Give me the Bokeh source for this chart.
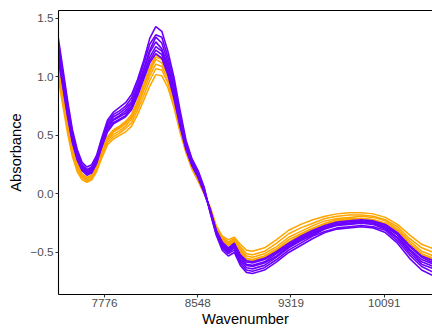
from bokeh.plotting import figure
from bokeh.models import Range1d, FixedTicker, LinearAxis, CustomJSTickFormatter
from bokeh.embed import file_html
from bokeh.resources import INLINE

wavenumber = [7394, 7430, 7470, 7510, 7550, 7590, 7630, 7670, 7710, 7750,
              7800, 7850, 7900, 7950, 8000, 8050, 8100, 8150, 8200, 8250,
              8300, 8350, 8400, 8450, 8500, 8550, 8600, 8650, 8700, 8750,
              8800, 8850, 8900, 8950, 9000, 9100, 9200, 9300, 9400, 9500,
              9600, 9700, 9800, 9900, 10000, 10100, 10200, 10300, 10400, 10500]

orange_1 = [0.98, 0.76, 0.52, 0.32, 0.19, 0.12, 0.10, 0.12, 0.19, 0.30,
            0.42, 0.47, 0.50, 0.53, 0.58, 0.68, 0.80, 0.92, 1.02, 1.01,
            0.91, 0.74, 0.53, 0.35, 0.21, 0.11, 0.00, -0.11, -0.27, -0.36,
            -0.39, -0.37, -0.43, -0.48, -0.49, -0.46, -0.39, -0.31, -0.26, -0.22,
            -0.19, -0.17, -0.16, -0.16, -0.17, -0.20, -0.26, -0.35, -0.43, -0.47]
orange_2 = [1.02, 0.80, 0.55, 0.34, 0.21, 0.14, 0.11, 0.13, 0.21, 0.32,
            0.44, 0.49, 0.52, 0.56, 0.61, 0.72, 0.84, 0.97, 1.07, 1.06,
            0.95, 0.77, 0.55, 0.37, 0.22, 0.12, 0.01, -0.12, -0.28, -0.37,
            -0.41, -0.38, -0.45, -0.51, -0.52, -0.49, -0.42, -0.34, -0.29, -0.25,
            -0.21, -0.19, -0.18, -0.18, -0.19, -0.22, -0.28, -0.38, -0.46, -0.50]
orange_3 = [1.06, 0.83, 0.58, 0.36, 0.23, 0.15, 0.12, 0.14, 0.22, 0.33,
            0.46, 0.51, 0.54, 0.58, 0.64, 0.75, 0.88, 1.01, 1.11, 1.09,
            0.98, 0.80, 0.57, 0.38, 0.23, 0.13, 0.01, -0.12, -0.29, -0.38,
            -0.42, -0.39, -0.47, -0.53, -0.54, -0.51, -0.45, -0.37, -0.32, -0.27,
            -0.23, -0.21, -0.20, -0.19, -0.20, -0.23, -0.30, -0.40, -0.49, -0.53]
orange_4 = [1.09, 0.85, 0.60, 0.38, 0.24, 0.16, 0.13, 0.15, 0.23, 0.35,
            0.47, 0.53, 0.56, 0.60, 0.66, 0.77, 0.91, 1.04, 1.15, 1.12,
            1.01, 0.82, 0.58, 0.39, 0.24, 0.13, 0.02, -0.13, -0.30, -0.39,
            -0.43, -0.40, -0.48, -0.55, -0.56, -0.53, -0.47, -0.39, -0.34, -0.29,
            -0.25, -0.22, -0.21, -0.21, -0.22, -0.25, -0.31, -0.42, -0.51, -0.55]
orange_5 = [1.11, 0.87, 0.61, 0.39, 0.25, 0.17, 0.14, 0.16, 0.24, 0.35,
            0.48, 0.54, 0.57, 0.61, 0.67, 0.79, 0.93, 1.06, 1.17, 1.15,
            1.03, 0.83, 0.59, 0.40, 0.25, 0.14, 0.02, -0.13, -0.31, -0.40,
            -0.44, -0.41, -0.49, -0.56, -0.57, -0.54, -0.48, -0.41, -0.35, -0.30,
            -0.26, -0.23, -0.22, -0.21, -0.22, -0.25, -0.32, -0.43, -0.52, -0.56]
orange_6 = [1.12, 0.88, 0.62, 0.40, 0.26, 0.17, 0.14, 0.16, 0.24, 0.36,
            0.49, 0.55, 0.58, 0.62, 0.68, 0.80, 0.94, 1.08, 1.19, 1.16,
            1.04, 0.84, 0.60, 0.40, 0.25, 0.14, 0.02, -0.13, -0.31, -0.40,
            -0.44, -0.41, -0.50, -0.57, -0.58, -0.55, -0.49, -0.42, -0.36, -0.31,
            -0.27, -0.24, -0.23, -0.22, -0.23, -0.26, -0.33, -0.44, -0.53, -0.57]

purple_1 = [1.15, 0.92, 0.66, 0.44, 0.29, 0.20, 0.16, 0.18, 0.26, 0.39,
            0.53, 0.60, 0.63, 0.66, 0.72, 0.84, 0.98, 1.12, 1.20, 1.16,
            1.02, 0.82, 0.58, 0.38, 0.24, 0.14, 0.01, -0.13, -0.31, -0.41,
            -0.46, -0.42, -0.52, -0.57, -0.58, -0.55, -0.49, -0.42, -0.36, -0.31,
            -0.27, -0.24, -0.23, -0.22, -0.23, -0.26, -0.33, -0.44, -0.53, -0.57]
purple_2 = [1.17, 0.94, 0.68, 0.45, 0.30, 0.21, 0.17, 0.19, 0.27, 0.40,
            0.54, 0.61, 0.64, 0.67, 0.74, 0.86, 1.00, 1.14, 1.23, 1.19,
            1.04, 0.84, 0.60, 0.39, 0.25, 0.15, 0.02, -0.13, -0.31, -0.42,
            -0.47, -0.43, -0.53, -0.58, -0.59, -0.56, -0.50, -0.43, -0.37, -0.32,
            -0.28, -0.25, -0.24, -0.23, -0.24, -0.27, -0.34, -0.45, -0.54, -0.59]
purple_3 = [1.20, 0.96, 0.70, 0.47, 0.31, 0.22, 0.18, 0.20, 0.28, 0.41,
            0.56, 0.63, 0.66, 0.69, 0.75, 0.88, 1.02, 1.17, 1.26, 1.22,
            1.07, 0.86, 0.62, 0.40, 0.26, 0.16, 0.02, -0.14, -0.32, -0.43,
            -0.48, -0.44, -0.54, -0.60, -0.61, -0.58, -0.51, -0.44, -0.38, -0.33,
            -0.29, -0.26, -0.25, -0.24, -0.25, -0.28, -0.35, -0.47, -0.56, -0.60]
purple_4 = [1.22, 0.98, 0.72, 0.48, 0.33, 0.23, 0.19, 0.21, 0.29, 0.42,
            0.57, 0.64, 0.67, 0.71, 0.77, 0.90, 1.05, 1.21, 1.30, 1.24,
            1.10, 0.89, 0.64, 0.41, 0.26, 0.16, 0.03, -0.14, -0.33, -0.44,
            -0.49, -0.45, -0.56, -0.61, -0.62, -0.59, -0.53, -0.45, -0.39, -0.34,
            -0.29, -0.26, -0.25, -0.24, -0.25, -0.29, -0.37, -0.48, -0.58, -0.62]
purple_5 = [1.25, 1.01, 0.74, 0.50, 0.34, 0.24, 0.20, 0.22, 0.30, 0.43,
            0.59, 0.66, 0.69, 0.73, 0.79, 0.92, 1.07, 1.23, 1.34, 1.29,
            1.13, 0.92, 0.66, 0.42, 0.27, 0.17, 0.04, -0.15, -0.33, -0.45,
            -0.50, -0.46, -0.57, -0.63, -0.64, -0.61, -0.54, -0.46, -0.40, -0.35,
            -0.30, -0.27, -0.26, -0.25, -0.26, -0.30, -0.38, -0.50, -0.60, -0.64]
purple_6 = [1.29, 1.04, 0.77, 0.52, 0.36, 0.25, 0.21, 0.23, 0.31, 0.45,
            0.61, 0.68, 0.71, 0.75, 0.82, 0.95, 1.11, 1.28, 1.36, 1.34,
            1.17, 0.96, 0.69, 0.44, 0.29, 0.19, 0.05, -0.15, -0.34, -0.46,
            -0.51, -0.48, -0.59, -0.65, -0.66, -0.63, -0.56, -0.48, -0.42, -0.36,
            -0.32, -0.29, -0.28, -0.27, -0.28, -0.31, -0.40, -0.52, -0.62, -0.67]
purple_7 = [1.33, 1.08, 0.80, 0.55, 0.38, 0.27, 0.23, 0.25, 0.33, 0.47,
            0.63, 0.70, 0.74, 0.78, 0.85, 0.98, 1.14, 1.33, 1.43, 1.39,
            1.22, 1.00, 0.72, 0.46, 0.30, 0.20, 0.06, -0.16, -0.35, -0.48,
            -0.53, -0.50, -0.61, -0.67, -0.68, -0.65, -0.58, -0.50, -0.44, -0.38,
            -0.33, -0.30, -0.29, -0.28, -0.29, -0.33, -0.42, -0.55, -0.65, -0.70]

orange_series = [orange_1, orange_2, orange_3, orange_4, orange_5, orange_6]
purple_series = [purple_1, purple_2, purple_3, purple_4, purple_5, purple_6, purple_7]

x_ticks = [7776, 8548, 9319, 10091]
y_ticks = [-0.5, 0.0, 0.5, 1.0, 1.5]

ORANGE = "#FFA500"
PURPLE = "#6B00FF"
FONT = "Liberation Sans"

p = figure(frame_width=374, frame_height=284, output_backend="svg",
           toolbar_location=None, x_range=Range1d(7395, 10490),
           y_range=Range1d(-0.859, 1.568))
p.min_border_left = 58
p.min_border_right = 0
p.min_border_top = 10
p.min_border_bottom = 36
p.outline_line_color = None
p.background_fill_color = "white"
p.border_fill_color = "white"
p.xgrid.visible = False
p.ygrid.visible = False

for ys in orange_series:
    p.line(wavenumber, ys, line_color=ORANGE, line_width=1.5)
for ys in purple_series:
    p.line(wavenumber, ys, line_color=PURPLE, line_width=1.6)

for ax in (p.xaxis[0], p.yaxis[0]):
    ax.axis_line_color = "black"
    ax.axis_line_width = 1.1
    ax.major_tick_line_color = "#333333"
    ax.major_tick_line_width = 1.1
    ax.major_tick_in = 0
    ax.major_tick_out = 3
    ax.minor_tick_line_color = None
    ax.major_label_text_font = FONT
    ax.major_label_text_font_size = "11.7px"
    ax.major_label_text_color = "#4D4D4D"
    ax.major_label_standoff = 2
    ax.axis_label_text_font = FONT
    ax.axis_label_text_font_size = "14.7px"
    ax.axis_label_text_font_style = "normal"
    ax.axis_label_text_color = "black"
    ax.axis_label_standoff = 3

p.xaxis[0].major_label_standoff = 1
p.xaxis[0].axis_label_standoff = 1
p.xaxis[0].ticker = FixedTicker(ticks=x_ticks)
p.xaxis[0].formatter = CustomJSTickFormatter(code="return tick.toFixed(0);")
p.xaxis[0].axis_label = "Wavenumber"
p.yaxis[0].ticker = FixedTicker(ticks=y_ticks)
p.yaxis[0].formatter = CustomJSTickFormatter(
    code="return tick < 0 ? '\u2212' + (-tick).toFixed(1) : tick.toFixed(1);")
p.yaxis[0].axis_label = "Absorbance"

top = LinearAxis(ticker=FixedTicker(ticks=[]), axis_line_color="black",
                 axis_line_width=1.1, major_tick_line_color=None,
                 minor_tick_line_color=None, major_label_text_font_size="0px")
p.add_layout(top, "above")

open("out.html", "w").write(file_html(p, INLINE))
